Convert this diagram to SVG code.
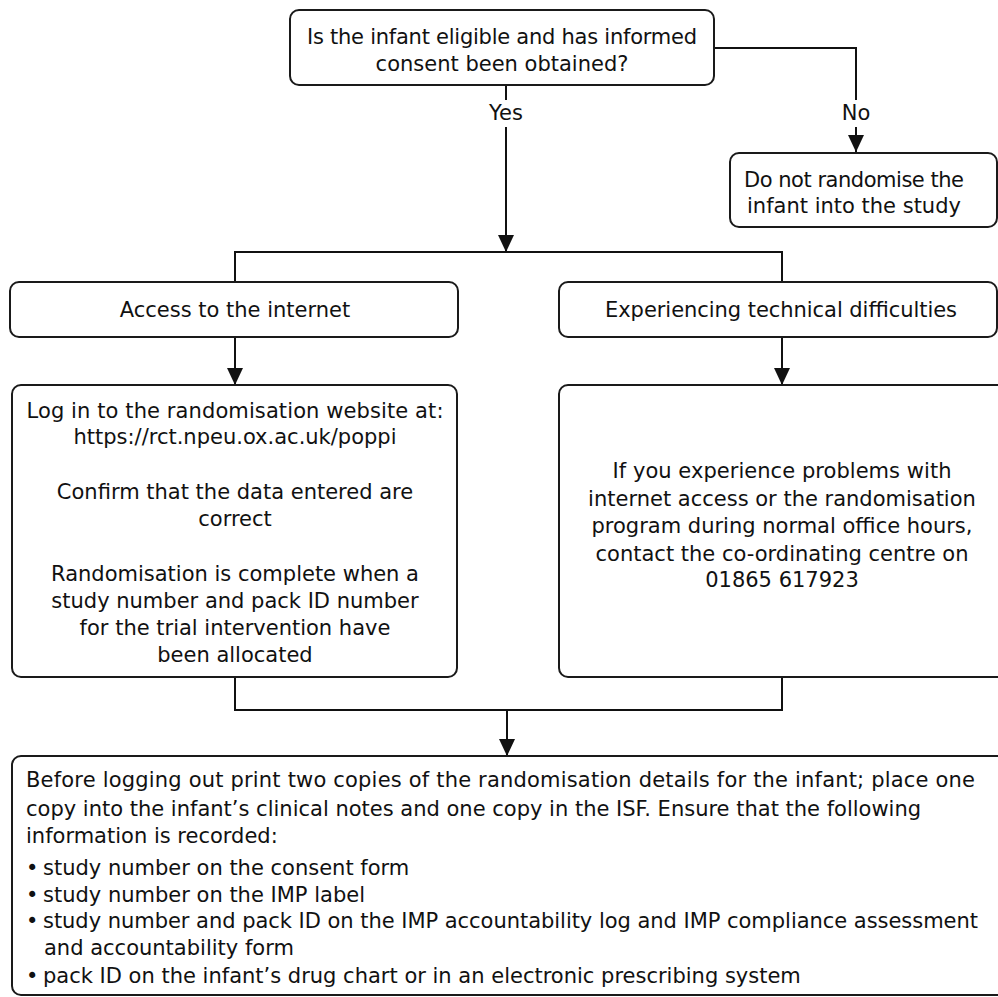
<svg xmlns="http://www.w3.org/2000/svg" width="998" height="997" viewBox="0 0 998 997">
<style>
.box{fill:#fff;stroke:#1a1a1a;stroke-width:2}
.ln{fill:none;stroke:#111;stroke-width:2}
text{font-family:"DejaVu Sans","Noto Sans","Liberation Sans",sans-serif;font-size:21px;fill:#111}
.c{text-anchor:middle}
</style>
<defs>
<marker id="ah" viewBox="0 0 17 16" refX="17" refY="8" markerWidth="17" markerHeight="16" markerUnits="userSpaceOnUse" orient="auto">
<path d="M0,0 L17,8 L0,16 z" fill="#111"/>
</marker>
</defs>
<rect width="998" height="997" fill="#fff"/>
<g id="connectors">
<path class="ln" d="M506,85 V100"/>
<path class="ln" d="M506,127 V252" marker-end="url(#ah)"/>
<path class="ln" d="M714,48 H856 V100"/>
<path class="ln" d="M856,127 V152" marker-end="url(#ah)"/>
<path class="ln" d="M235,282 V252 H782 V282"/>
<path class="ln" d="M235,337 V385" marker-end="url(#ah)"/>
<path class="ln" d="M782,337 V385" marker-end="url(#ah)"/>
<path class="ln" d="M235,677 V710 H782 V677"/>
<path class="ln" d="M507,710 V756" marker-end="url(#ah)"/>
<text class="c" x="506" y="120">Yes</text>
<text class="c" x="856" y="120">No</text>
</g>
<g id="eligible">
<rect class="box" x="290" y="10" width="424" height="75" rx="9"/>
<text class="c" x="502" y="44" textLength="390" lengthAdjust="spacing">Is the infant eligible and has informed</text>
<text class="c" x="502" y="71">consent been obtained?</text>
</g>
<g id="no-randomise">
<rect class="box" x="730" y="153" width="267" height="74" rx="9"/>
<text class="c" x="854" y="187" textLength="220" lengthAdjust="spacing">Do not randomise the</text>
<text class="c" x="854" y="213">infant into the study</text>
</g>
<g id="access">
<rect class="box" x="10" y="282" width="448" height="55" rx="9"/>
<text class="c" x="235" y="317">Access to the internet</text>
</g>
<g id="technical">
<rect class="box" x="559" y="282" width="438" height="55" rx="9"/>
<text class="c" x="781" y="317" textLength="352" lengthAdjust="spacing">Experiencing technical difficulties</text>
</g>
<g id="login">
<rect class="box" x="12" y="385" width="445" height="292" rx="9"/>
<text class="c" x="235" y="418" textLength="417" lengthAdjust="spacing">Log in to the randomisation website at:</text>
<text class="c" x="235" y="444">https://rct.npeu.ox.ac.uk/poppi</text>
<text class="c" x="235" y="499">Confirm that the data entered are</text>
<text class="c" x="235" y="526">correct</text>
<text class="c" x="235" y="581">Randomisation is complete when a</text>
<text class="c" x="235" y="608">study number and pack ID number</text>
<text class="c" x="235" y="635">for the trial intervention have</text>
<text class="c" x="235" y="662">been allocated</text>
</g>
<g id="problems">
<rect class="box" x="559" y="385" width="450" height="292" rx="9"/>
<text class="c" x="782" y="478" textLength="339" lengthAdjust="spacing">If you experience problems with</text>
<text class="c" x="782" y="506">internet access or the randomisation</text>
<text class="c" x="782" y="533">program during normal office hours,</text>
<text class="c" x="782" y="561">contact the co-ordinating centre on</text>
<text class="c" x="782" y="587">01865 617923</text>
</g>
<g id="record">
<rect class="box" x="12" y="756" width="1000" height="239" rx="9"/>
<text x="26" y="787" textLength="949" lengthAdjust="spacing">Before logging out print two copies of the randomisation details for the infant; place one</text>
<text x="26" y="816">copy into the infant’s clinical notes and one copy in the ISF. Ensure that the following</text>
<text x="26" y="843">information is recorded:</text>
<text x="26" y="875">•</text><text x="43" y="875">study number on the consent form</text>
<text x="26" y="902">•</text><text x="43" y="902">study number on the IMP label</text>
<text x="26" y="928">•</text><text x="43" y="928" textLength="935" lengthAdjust="spacing">study number and pack ID on the IMP accountability log and IMP compliance assessment</text>
<text x="44" y="955">and accountability form</text>
<text x="26" y="983">•</text><text x="43" y="983">pack ID on the infant’s drug chart or in an electronic prescribing system</text>
</g>
</svg>
